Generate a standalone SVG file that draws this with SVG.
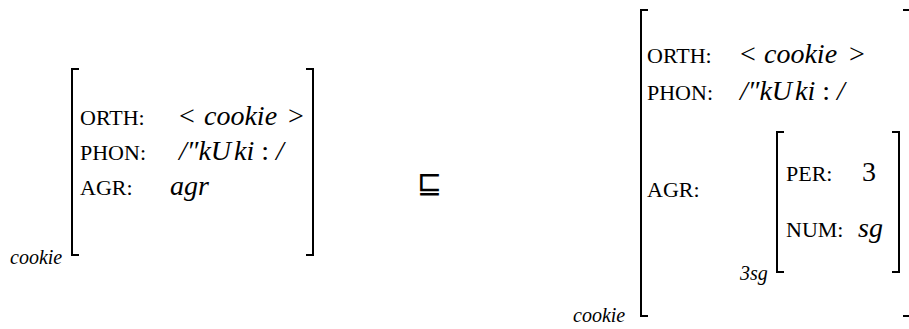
<svg xmlns="http://www.w3.org/2000/svg" width="909" height="329" viewBox="0 0 909 329">
<style>
text{font-family:'Liberation Serif','Times New Roman','DejaVu Serif',serif;fill:#000}
.lbl{font-size:22px}
.val{font-size:28px;font-style:italic}
.num{font-size:28px}
.sub{font-size:20px;font-style:italic}
.br{fill:none;stroke:#000;stroke-width:2}
</style>
<rect width="909" height="329" fill="#fff"/>
<g id="left-avm">
  <path class="br" d="M79,69 H72 V255 H79"/>
  <path class="br" d="M306,69 H313 V255 H306"/>
  <text class="lbl" x="80" y="125">ORTH:</text>
  <text class="num" x="179" y="125">&lt;</text>
  <text class="val" x="204" y="125">cookie</text>
  <text class="num" x="288" y="125">&gt;</text>
  <text class="lbl" x="80" y="160">PHON:</text>
  <text class="val" x="179" y="160">/″kU<tspan dx="3">ki</tspan><tspan font-style="normal"> : </tspan>/</text>
  <text class="lbl" x="80" y="195">AGR:</text>
  <text class="val" x="170" y="195">agr</text>
  <text class="sub" x="10" y="264">cookie</text>
</g>
<g id="subsumes">
  <text x="417" y="193" style="font-family:'DejaVu Sans',sans-serif;font-size:30px">⊑</text>
</g>
<g id="right-avm">
  <path class="br" d="M648,10 H641 V316 H648"/>
  <path class="br" d="M903,10 H910 V316 H903"/>
  <text class="lbl" x="647" y="63">ORTH:</text>
  <text class="num" x="740" y="63">&lt;</text>
  <text class="val" x="764" y="63">cookie</text>
  <text class="num" x="849" y="63">&gt;</text>
  <text class="lbl" x="647" y="100">PHON:</text>
  <text class="val" x="740" y="100">/″kU<tspan dx="3">ki</tspan><tspan font-style="normal"> : </tspan>/</text>
  <text class="lbl" x="647" y="197">AGR:</text>
  <text class="sub" x="740" y="280">3sg</text>
  <text class="sub" x="573" y="322">cookie</text>
</g>
<g id="agr-avm">
  <path class="br" d="M784,132 H777 V272 H784"/>
  <path class="br" d="M892,132 H899 V272 H892"/>
  <text class="lbl" x="786" y="181">PER:</text>
  <text class="num" x="862" y="181">3</text>
  <text class="lbl" x="786" y="237">NUM:</text>
  <text class="val" x="858" y="237">sg</text>
</g>
<g id="connectors"/>
</svg>
